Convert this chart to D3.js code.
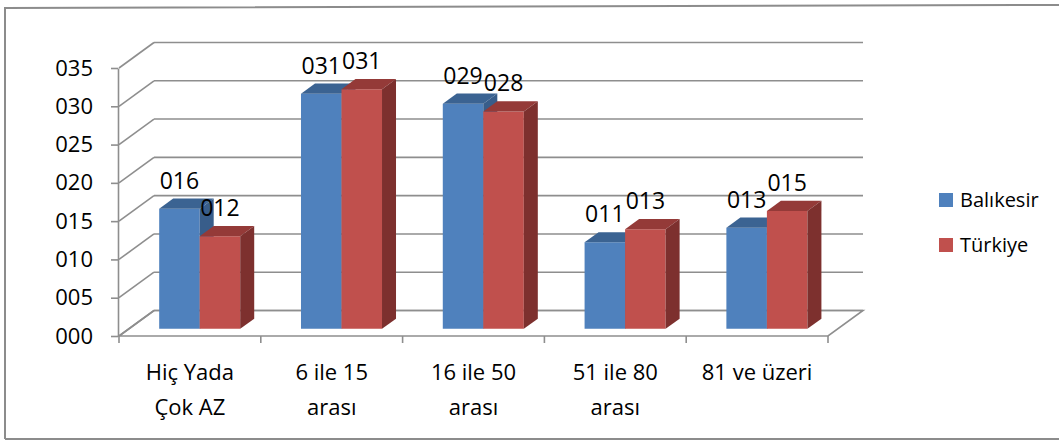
<!DOCTYPE html>
<html>
<head>
<meta charset="utf-8">
<script src="https://cdn.jsdelivr.net/npm/d3@7"></script>
<style>
  html, body { margin: 0; padding: 0; background: #fff; }
  svg { display: block; }
  text { font-family: "Open Sans", sans-serif; fill: #000; }
</style>
</head>
<body>
<svg id="chart" width="1059" height="440"></svg>
<script>
// ---- data ----
const categories = ["Hiç Yada\nÇok AZ", "6 ile 15\narası", "16 ile 50\narası", "51 ile 80\narası", "81 ve üzeri"];
const seriesNames = ["Balıkesir", "Türkiye"];
const balikesir = [15.7, 30.7, 29.4, 11.3, 13.2];
const turkiye   = [12.1, 31.3, 28.4, 13.0, 15.4];
const yTicks = [0, 5, 10, 15, 20, 25, 30, 35];

// ---- style ----
const colors = {
  "Balıkesir": { front: "#4f81bd", top: "#3b6392", side: "#385d8a" },
  "Türkiye":   { front: "#c0504d", top: "#943a38", side: "#7d302e" }
};
const gridColor = "#8e8e8e";
const DX = 35, DY = 25.5;      // depth offset of the 3D box
const Z0 = 0.28, Z1 = 0.68;    // bar depth range

const svg = d3.select("#chart");

// outer border
svg.append("path")
  .attr("d", "M5,439 L5,8 L1059,5 M5,439 L1059,439")
  .attr("fill", "none").attr("stroke", "#8c8c8c").attr("stroke-width", 2);

const x = d3.scaleBand().domain(categories).range([119, 828]).paddingInner(0).paddingOuter(0);
const xs = d3.scaleBand().domain(seriesNames).range([0, x.bandwidth()]).paddingInner(0).paddingOuter(0.75);
const y = d3.scaleLinear().domain([0, 35]).range([336, 68]);

const proj = (px, v, z) => [px + z * DX, y(v) - z * DY];

const g = svg.append("g");

// back wall gridlines
g.selectAll("line.grid").data(yTicks).join("line")
  .attr("class", "grid")
  .attr("x1", x.range()[0] + DX).attr("x2", x.range()[1] + DX)
  .attr("y1", d => y(d) - DY).attr("y2", d => y(d) - DY)
  .attr("stroke", gridColor).attr("stroke-width", 1.6);

// side wall diagonals
g.selectAll("line.diag").data(yTicks).join("line")
  .attr("class", "diag")
  .attr("x1", x.range()[0]).attr("x2", x.range()[0] + DX)
  .attr("y1", d => y(d)).attr("y2", d => y(d) - DY)
  .attr("stroke", gridColor).attr("stroke-width", 1.6);

// floor
const fx0 = x.range()[0], fx1 = x.range()[1];
g.append("path")
  .attr("d", `M${fx0},${y(0)} L${fx1},${y(0)} L${fx1 + DX},${y(0) - DY} L${fx0 + DX},${y(0) - DY} Z`)
  .attr("fill", "none").attr("stroke", gridColor).attr("stroke-width", 1.6);

// y axis
const yAxis = d3.axisLeft(y).tickValues(yTicks).tickFormat(d3.format("03d"))
  .tickSize(7).tickSizeOuter(0).tickPadding(18);
const ya = svg.append("g").attr("transform", `translate(${fx0 - 1},0)`).call(yAxis);
ya.selectAll("path, line").attr("stroke", gridColor).attr("stroke-width", 1.6);
ya.selectAll("text").style("font-family", '"Open Sans", sans-serif').style("font-size", "22px").attr("fill", "#000");

// x axis boundary ticks
const bounds = categories.map(c => x(c)).concat([x.range()[1]]);
svg.selectAll("line.xtick").data(bounds).join("line")
  .attr("class", "xtick")
  .attr("x1", d => d).attr("x2", d => d)
  .attr("y1", y(0)).attr("y2", y(0) + 7)
  .attr("stroke", gridColor).attr("stroke-width", 1.6);

// category labels
const catG = svg.selectAll("text.cat").data(categories).join("text")
  .attr("class", "cat")
  .attr("text-anchor", "middle")
  .style("font-size", "22px");
catG.each(function(d) {
  const t = d3.select(this);
  d.split("\n").forEach((line, i) => {
    t.append("tspan").attr("x", x(d) + x.bandwidth() / 2).attr("y", 380 + i * 35).text(line);
  });
});

// bars
const data = [];
categories.forEach((c, i) => {
  data.push({ cat: c, s: "Balıkesir", v: balikesir[i] });
  data.push({ cat: c, s: "Türkiye", v: turkiye[i] });
});

const barsG = svg.append("g");
data.forEach(d => {
  const xl = x(d.cat) + xs(d.s);
  const xr = xl + xs.bandwidth();
  const col = colors[d.s];
  const pt = (px, v, z) => proj(px, v, z).join(",");
  const bg = barsG.append("g");
  // front
  bg.append("path")
    .attr("d", `M${pt(xl,0,Z0)} L${pt(xr,0,Z0)} L${pt(xr,d.v,Z0)} L${pt(xl,d.v,Z0)} Z`)
    .attr("fill", col.front);
  // top
  bg.append("path")
    .attr("d", `M${pt(xl,d.v,Z0)} L${pt(xr,d.v,Z0)} L${pt(xr,d.v,Z1)} L${pt(xl,d.v,Z1)} Z`)
    .attr("fill", col.top);
  // side
  bg.append("path")
    .attr("d", `M${pt(xr,0,Z0)} L${pt(xr,0,Z1)} L${pt(xr,d.v,Z1)} L${pt(xr,d.v,Z0)} Z`)
    .attr("fill", col.side);
});

// data labels
svg.selectAll("text.lbl").data(data).join("text")
  .attr("class", "lbl")
  .attr("text-anchor", "middle")
  .style("font-size", "23px")
  .attr("x", d => proj(x(d.cat) + xs(d.s) + xs.bandwidth() / 2, d.v, Z0)[0])
  .attr("y", d => proj(0, d.v, Z0)[1] - 20)
  .text(d => d3.format("03.0f")(d.v));

// legend
const lg = svg.append("g");
seriesNames.forEach((s, i) => {
  lg.append("rect").attr("x", 939).attr("y", 193 + i * 45).attr("width", 14).attr("height", 14)
    .attr("fill", colors[s].front);
  lg.append("text").attr("x", 960).attr("y", 207 + i * 45).style("font-size", "20px").text(s);
});
</script>
</body>
</html>
